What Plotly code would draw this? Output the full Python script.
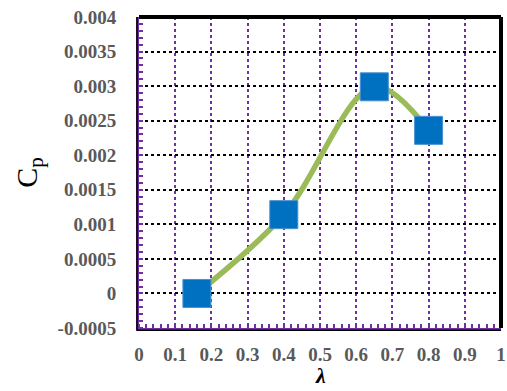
import plotly.graph_objects as go

# Power coefficient versus tip speed ratio
tsr = [0.16, 0.40, 0.65, 0.80]
cp = [0.0, 0.00114, 0.00299, 0.00236]

x_ticks = [0, 0.1, 0.2, 0.3, 0.4, 0.5, 0.6, 0.7, 0.8, 0.9, 1]
x_labels = ["0", "0.1", "0.2", "0.3", "0.4", "0.5", "0.6", "0.7", "0.8", "0.9", "1"]
y_ticks = [-0.0005, 0, 0.0005, 0.001, 0.0015, 0.002, 0.0025, 0.003, 0.0035, 0.004]
y_labels = ["-0.0005", "0", "0.0005", "0.001", "0.0015", "0.002", "0.0025", "0.003", "0.0035", "0.004"]

PURPLE = "#7030A0"
GRAY = "#595959"
SERIF = "Liberation Serif, Times New Roman, serif"
tick_font = dict(family=SERIF, size=19, color=GRAY)

fig = go.Figure()

# smoothed curve
fig.add_trace(go.Scatter(
    x=tsr, y=cp, mode="lines",
    line=dict(color="#9BBB59", width=5.5, shape="spline", smoothing=1.0),
    hoverinfo="skip", showlegend=False,
))
# data markers
fig.add_trace(go.Scatter(
    x=tsr, y=cp, mode="markers",
    marker=dict(symbol="square", size=28, color="#0070C0",
                line=dict(color="#4A90D0", width=1)),
    showlegend=False,
))

fig.update_xaxes(
    range=[0, 1], tickvals=x_ticks, ticktext=["<b>%s</b>" % t for t in x_labels],
    tickfont=tick_font, ticks="", ticklabelstandoff=7, automargin=False,
    showgrid=True, gridcolor=PURPLE, gridwidth=2, griddash="dot",
    showline=True, linecolor=PURPLE, linewidth=3, mirror=False,
    minor=dict(ticks="inside", dtick=0.02, ticklen=4, tickwidth=2,
               tickcolor=PURPLE, showgrid=False),
    zeroline=False,
)
fig.update_yaxes(
    range=[-0.0005, 0.004], tickvals=y_ticks, ticktext=["<b>%s</b>" % t for t in y_labels],
    tickfont=tick_font, ticks="", ticklabelstandoff=16, automargin=False,
    showgrid=True, gridcolor="black", gridwidth=2, griddash="dot",
    showline=True, linecolor=PURPLE, linewidth=3, mirror=False,
    minor=dict(ticks="inside", dtick=0.0001, ticklen=4, tickwidth=2,
               tickcolor=PURPLE, showgrid=False),
    zeroline=False,
    title=dict(text="C<sub>p</sub>", font=dict(family=SERIF, size=30, color="black"),
               standoff=12),
)

# x-axis title placed below the tick labels
fig.add_annotation(
    text="<b><i>λ</i></b>", xref="paper", yref="paper", x=0.5, y=-0.2,
    xanchor="center", yanchor="bottom", showarrow=False,
    font=dict(family=SERIF, size=22, color="black"),
)

# outer frame: black top and right edges
for x0, x1, y0, y1 in [(0, 1, 1, 1), (1, 1, 0, 1)]:
    fig.add_shape(type="line", xref="paper", yref="paper",
                  x0=x0, x1=x1, y0=y0, y1=y1,
                  line=dict(color="black", width=4), layer="above")
# thin dark outline just outside the purple left and bottom axes
fig.add_shape(type="line", xref="paper", yref="paper",
              x0=-0.0055, x1=-0.0055, y0=-0.007, y1=1,
              line=dict(color="black", width=1.5), layer="above")
fig.add_shape(type="line", xref="paper", yref="paper",
              x0=-0.0055, x1=1, y0=-0.0075, y1=-0.0075,
              line=dict(color="black", width=1.5), layer="above")

fig.update_layout(
    width=507, height=391,
    margin=dict(l=139, r=6, t=17, b=63),
    paper_bgcolor="white", plot_bgcolor="white",
)

fig.write_html("out.html")
